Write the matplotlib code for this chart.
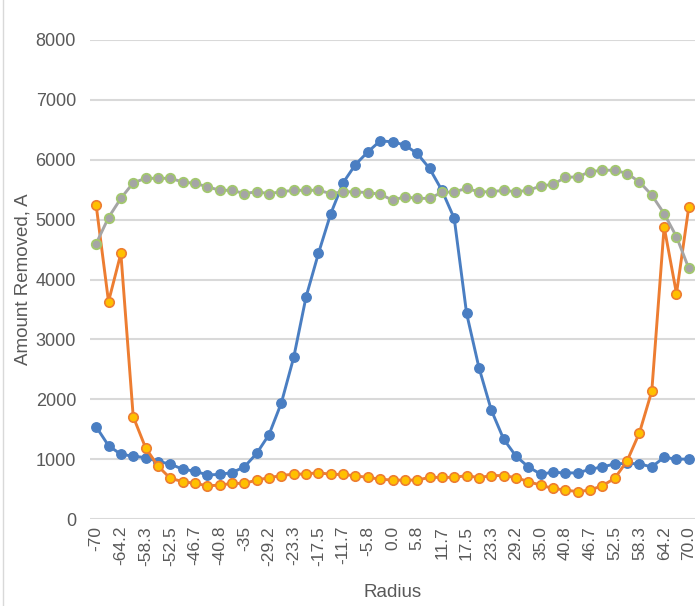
import matplotlib
matplotlib.use("Agg")
import matplotlib.pyplot as plt
from matplotlib.lines import Line2D

plt.rcParams['font.family'] = ['Liberation Sans', 'DejaVu Sans']

radius = [-70, -67.1, -64.2, -61.3, -58.3, -55.4, -52.5, -49.6, -46.7, -43.8,
          -40.8, -37.9, -35, -32.1, -29.2, -26.3, -23.3, -20.4, -17.5, -14.6,
          -11.7, -8.8, -5.8, -2.9, 0.0, 2.9, 5.8, 8.8, 11.7, 14.6,
          17.5, 20.4, 23.3, 26.3, 29.2, 32.1, 35.0, 37.9, 40.8, 43.8,
          46.7, 49.6, 52.5, 55.4, 58.3, 61.3, 64.2, 67.1, 70.0]

tick_labels = ["-70", "-64.2", "-58.3", "-52.5", "-46.7", "-40.8", "-35", "-29.2",
               "-23.3", "-17.5", "-11.7", "-5.8", "0.0", "5.8", "11.7", "17.5",
               "23.3", "29.2", "35.0", "40.8", "46.7", "52.5", "58.3", "64.2", "70.0"]

series_blue = [1540, 1225, 1080, 1050, 1025, 960, 920, 830, 800, 735,
               745, 775, 870, 1095, 1410, 1940, 2700, 3710, 4435, 5100,
               5615, 5920, 6130, 6315, 6300, 6245, 6105, 5855, 5490, 5020,
               3435, 2530, 1820, 1335, 1050, 870, 750, 780, 770, 770,
               830, 870, 920, 930, 920, 870, 1030, 1000, 1000]

series_orange = [5240, 3630, 4435, 1710, 1190, 885, 680, 625, 595, 555,
                 565, 595, 595, 650, 690, 725, 750, 750, 775, 745,
                 745, 720, 695, 665, 650, 650, 650, 695, 695, 695,
                 725, 690, 725, 725, 690, 625, 565, 510, 485, 455,
                 485, 555, 680, 970, 1440, 2135, 4880, 3765, 5215]

series_grey = [4600, 5035, 5355, 5615, 5690, 5690, 5690, 5630, 5605, 5550,
               5490, 5490, 5435, 5465, 5435, 5465, 5490, 5490, 5490, 5435,
               5465, 5465, 5450, 5425, 5325, 5380, 5355, 5355, 5455, 5465,
               5520, 5465, 5465, 5490, 5465, 5490, 5560, 5590, 5705, 5715,
               5800, 5825, 5825, 5770, 5630, 5410, 5100, 4715, 4185]

y_ticks = [0, 1000, 2000, 3000, 4000, 5000, 6000, 7000, 8000]

fig = plt.figure(figsize=(6.95, 6.06), dpi=100)
ax = fig.add_axes([90/695, 87/606, 605/695, 479/606])

x = list(range(len(radius)))
ms = 6.8
ax.plot(x, series_blue, color='#4A7EC2', lw=2.1, marker='o', ms=ms,
        mfc='#4A7EC2', mec='#4A7EC2', zorder=3)
ax.plot(x, series_orange, color='#ED7D31', lw=2.1, marker='o', ms=ms,
        mfc='#FFC000', mec='#ED7D31', mew=1.2, zorder=4)
ax.plot(x, series_grey, color='#A5A5A5', lw=2.1, marker='o', ms=ms,
        mfc='#A5A5A5', mec='#A3C86E', mew=1.3, zorder=5)

ax.set_xlim(-0.5, len(radius) - 0.5)
ax.set_ylim(0, 8000)
ax.set_yticks(y_ticks)
ax.set_yticklabels([str(v) for v in y_ticks])
ax.set_xticks(x[::2])
ax.set_xticklabels(tick_labels, rotation=90)

ax.grid(axis='y', color='#D9D9D9', lw=1.5)
ax.set_axisbelow(True)
for s in ax.spines.values():
    s.set_visible(False)
ax.tick_params(axis='both', length=0, colors='#595959')
ax.tick_params(axis='y', pad=10, labelsize=13)
ax.tick_params(axis='x', pad=5, labelsize=12.5)

ax.set_xlabel('Radius', color='#595959', fontsize=13.5, labelpad=13)
ax.set_ylabel('Amount Removed, A', color='#595959', fontsize=13.5, labelpad=3)

fig.add_artist(Line2D([3/695, 3/695], [0, 1], color='#D9D9D9', lw=1.0))

fig.savefig('out.png', dpi=100)
